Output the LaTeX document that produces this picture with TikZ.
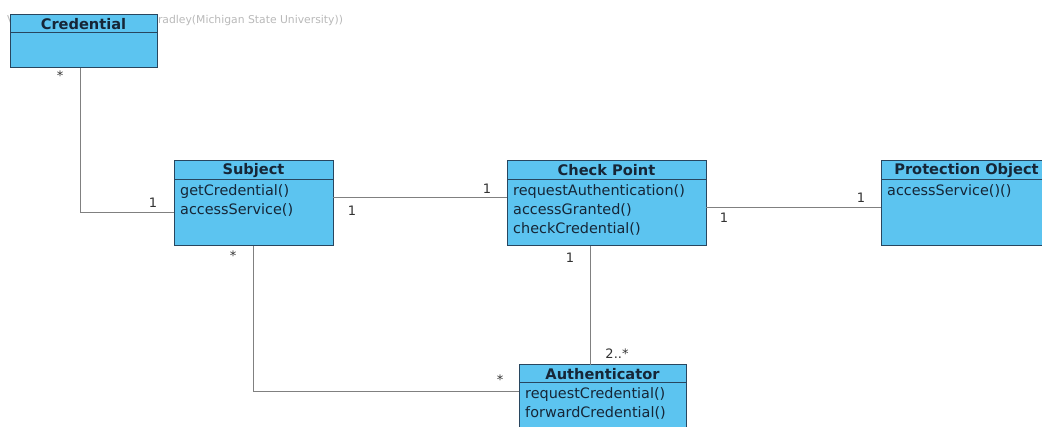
\documentclass[tikz,border=0pt]{standalone}
\usepackage{fontspec}
\setmainfont{DejaVu Sans}
\begin{document}
\begin{tikzpicture}[x=1pt,y=-1pt,
  cls/.style={draw=clsborder, fill=clsfill, line width=1pt, anchor=north west, inner sep=0pt, outer sep=0pt},
  title/.style={font=\fontsize{14.6}{16}\selectfont\bfseries, text=clstext, anchor=center, inner sep=0pt},
  ops/.style={font=\fontsize{14.4}{19}\selectfont, text=clstext, anchor=north west, align=left, inner sep=0pt},
  assoc/.style={draw=assocline, line width=1pt},
  mult/.style={font=\fontsize{13}{14}\selectfont, text=multtext, inner sep=0pt}]
\definecolor{clsfill}{RGB}{92,196,240}
\definecolor{clsborder}{RGB}{40,70,95}
\definecolor{clstext}{RGB}{22,38,55}
\definecolor{assocline}{RGB}{128,128,128}
\definecolor{multtext}{RGB}{50,50,50}
\definecolor{marktext}{RGB}{185,185,185}
\useasboundingbox (0,0) rectangle (1042,427);
\clip (0,0) rectangle (1042,427);

% watermark line of the modelling tool, partly hidden by the first class
\node[anchor=west, inner sep=0pt, text=marktext, font=\fontsize{10.8}{12}\selectfont] (mark) at (7,21) {Visual Paradigm Standard(Bradley(Michigan State University))};

% classes
\node[cls, minimum width=147, minimum height=53] (cred) at (10,15) {};
\draw[clsborder, line width=1pt] (10,33) -- (157,33);
\node[title] (credT) at (83.5,24) {Credential};

\node[cls, minimum width=159, minimum height=85] (subj) at (174,161) {};
\draw[clsborder, line width=1pt] (174,180) -- (333,180);
\node[title] (subjT) at (253.5,170.5) {Subject};
\node[ops] (subjO) at (180,184.5) {getCredential()\\accessService()};

\node[cls, minimum width=199, minimum height=85] (cp) at (507,161) {};
\draw[clsborder, line width=1pt] (507,180) -- (706,180);
\node[title] (cpT) at (606.5,170.5) {Check Point};
\node[ops] (cpO) at (513,184.5) {requestAuthentication()\\accessGranted()\\checkCredential()};

\node[cls, minimum width=171, minimum height=85] (prot) at (881,161) {};
\draw[clsborder, line width=1pt] (881,180) -- (1052,180);
\node[title] (protT) at (966.5,170.5) {Protection Object};
\node[ops] (protO) at (887,184.5) {accessService()()};

\node[cls, minimum width=167, minimum height=75] (auth) at (519,365) {};
\draw[clsborder, line width=1pt] (519,383) -- (686,383);
\node[title] (authT) at (602.5,374) {Authenticator};
\node[ops] (authO) at (525,387.5) {requestCredential()\\forwardCredential()};

% associations
\draw[assoc] ([xshift=-3.5pt]cred.south) |- ([yshift=-9.5pt]subj.west);
\node[mult] at (60,76) {*};
\node[mult] at (153,203) {1};

\draw[assoc] ([yshift=5.5pt]subj.east) -- ([yshift=5.5pt]cp.west);
\node[mult] at (352,211) {1};
\node[mult] at (487,189) {1};

\draw[assoc] ([yshift=-4.5pt]cp.east) -- ([yshift=-4.5pt]prot.west);
\node[mult] at (724,218) {1};
\node[mult] at (861,198) {1};

\draw[assoc] ([xshift=-16.5pt]cp.south) -- ([xshift=-16.5pt]cp.south |- auth.north);
\node[mult] at (570,258) {1};
\node[mult] at (617,354) {2..*};

\draw[assoc] ([xshift=-0.5pt]subj.south) |- ([yshift=10.5pt]auth.west);
\node[mult] at (233,256) {*};
\node[mult] at (500,380) {*};
\end{tikzpicture}
\end{document}
